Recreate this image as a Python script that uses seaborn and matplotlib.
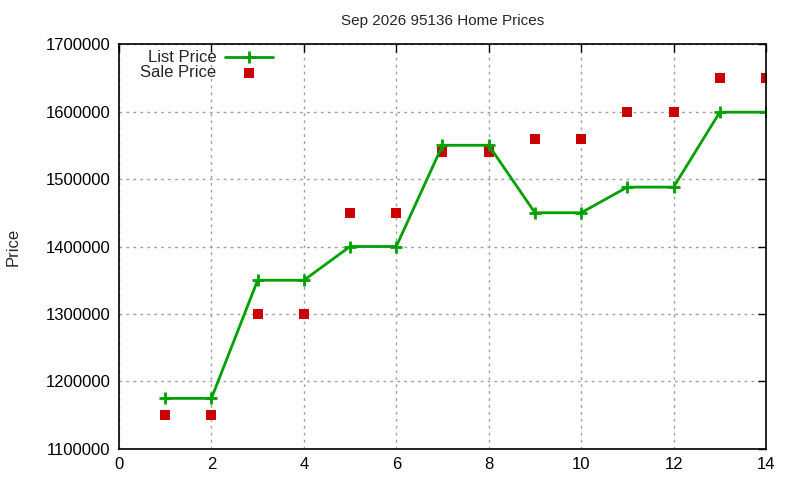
import matplotlib
matplotlib.use('Agg')
import matplotlib.pyplot as plt
import pandas as pd
import seaborn as sns

# data
months = [1, 2, 3, 4, 5, 6, 7, 8, 9, 10, 11, 12, 13, 14]
list_price = [1175000, 1175000, 1350000, 1350000, 1400000, 1400000, 1550000,
              1550000, 1450000, 1450000, 1488000, 1488000, 1599000, 1599000]
sale_price = [1150000, 1150000, 1300000, 1300000, 1450000, 1450000, 1540000,
              1540000, 1560000, 1560000, 1600000, 1600000, 1650000, 1650000]
x_ticks = [0, 2, 4, 6, 8, 10, 12, 14]
y_ticks = [1100000, 1200000, 1300000, 1400000, 1500000, 1600000, 1700000]

df = pd.DataFrame({'x': months, 'list': list_price, 'sale': sale_price})

sns.set_style('white')
plt.rcParams['font.family'] = ['Liberation Sans', 'DejaVu Sans']

fig = plt.figure(figsize=(8, 4.8), dpi=100)
ax = fig.add_axes([0.14875, 0.0646, 0.80875, 0.8437])

green = '#00a000'
sns.lineplot(data=df, x='x', y='list', ax=ax, color=green, linewidth=2,
             marker='+', markersize=8, markeredgewidth=2,
             markeredgecolor=green, label='List Price')
sns.scatterplot(data=df, x='x', y='sale', ax=ax, color='#cc0000', marker='s',
                s=50, linewidth=0, label='Sale Price')

ax.set_xlim(0, 14)
ax.set_ylim(1100000, 1700000)
ax.set_xticks(x_ticks)
ax.set_yticks(y_ticks)
ax.set_xticklabels([str(t) for t in x_ticks])
ax.set_yticklabels([str(t) for t in y_ticks])
ax.tick_params(direction='in', length=6, width=1, top=True, right=True,
               labelsize=12, colors='black', pad=6)
ax.grid(True, color='#a0a0a0', linestyle=(0, (2, 3)), linewidth=1)
for s in ax.spines.values():
    s.set_color('black')
    s.set_linewidth(1.2)

ax.set_xlabel('')
ax.set_ylabel('Price', fontsize=12, labelpad=18)
ax.set_title('Sep 2026 95136 Home Prices', fontsize=11, pad=14)

ax.legend(loc='upper left', bbox_to_anchor=(0.015, 1.013), frameon=False,
          markerfirst=False, fontsize=12, handlelength=2.9, borderpad=0.2,
          labelspacing=0.0, handletextpad=0.5)

fig.savefig('out.png', dpi=100)
